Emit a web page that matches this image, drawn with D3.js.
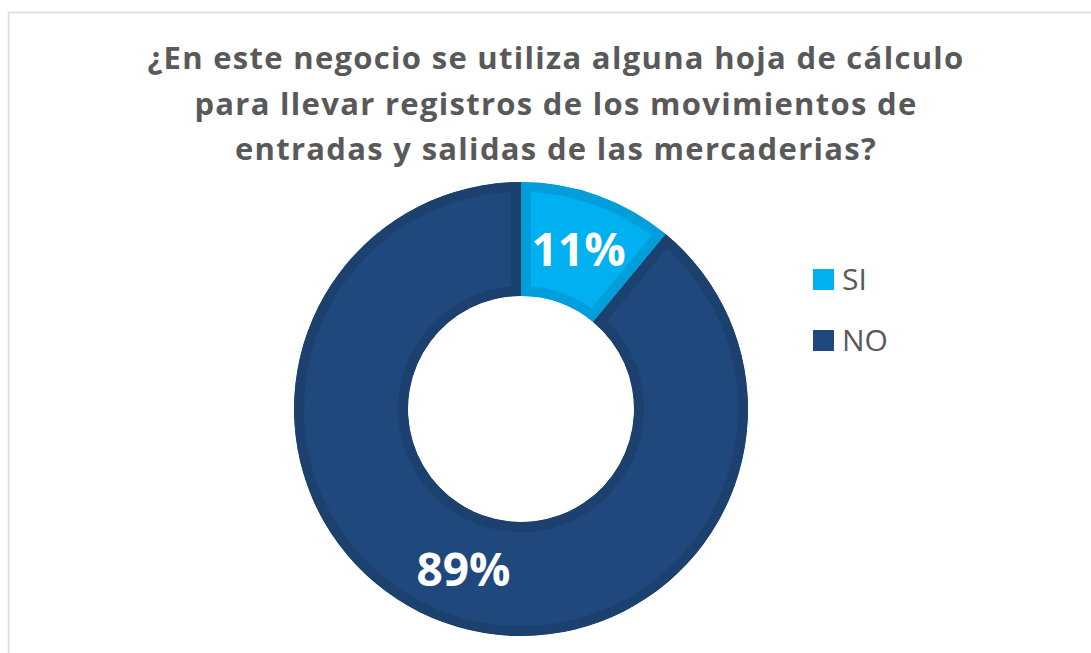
<!DOCTYPE html>
<html>
<head>
<meta charset="utf-8">
<script src="https://cdn.jsdelivr.net/npm/d3@7"></script>
<style>
  html, body { margin: 0; padding: 0; background: #fff; }
  svg { display: block; }
</style>
</head>
<body>
<script>
// Donut chart: use of spreadsheets for stock movements

const titleLines = [
  "¿En este negocio se utiliza alguna hoja de cálculo",
  "para llevar registros de los movimientos de",
  "entradas y salidas de las mercaderias?"
];
const categories = ["SI", "NO"];
const values = [11, 89];
const fills = ["#00B0F0", "#1F497D"];
const edges = ["#009FDB", "#1C416F"];

const W = 1091, H = 653;
const svg = d3.select("body").append("svg")
  .attr("width", W)
  .attr("height", H);

// chart frame
svg.append("rect")
  .attr("x", 8.5).attr("y", 12.5)
  .attr("width", W + 20).attr("height", H + 20)
  .attr("fill", "#fff")
  .attr("stroke", "#D9D9D9")
  .attr("stroke-width", 1.5);

// title
svg.append("g")
  .selectAll("text")
  .data(titleLines)
  .enter()
  .append("text")
  .attr("x", 556)
  .attr("y", (d, i) => 69 + i * 45.5)
  .attr("text-anchor", "middle")
  .attr("font-family", "'Open Sans', sans-serif")
  .attr("font-weight", "bold")
  .attr("font-size", 31)
  .attr("letter-spacing", 1.3)
  .attr("fill", "#595959")
  .text(d => d);

const cx = 521, cy = 409, rOuter = 227, rInner = 113;
const data = categories.map((c, i) => ({ name: c, value: values[i], i }));

const pie = d3.pie().value(d => d.value).sort(null);
const arc = d3.arc().innerRadius(rInner).outerRadius(rOuter);
const arcs = pie(data);

const g = svg.append("g").attr("transform", `translate(${cx},${cy})`);
const defs = svg.append("defs");

arcs.forEach((a, k) => {
  defs.append("clipPath")
    .attr("id", "clip" + k)
    .append("path")
    .attr("d", arc(a));
});

// slices with inner darker edge
g.selectAll("path.slice")
  .data(arcs)
  .enter()
  .append("path")
  .attr("class", "slice")
  .attr("d", arc)
  .attr("fill", d => fills[d.data.i])
  .attr("stroke", d => edges[d.data.i])
  .attr("stroke-width", 20)
  .attr("clip-path", (d, k) => `url(#clip${k})`);

// data labels
g.selectAll("text.lbl")
  .data(arcs)
  .enter()
  .append("text")
  .attr("class", "lbl")
  .attr("transform", d => `translate(${arc.centroid(d)})`)
  .attr("text-anchor", "middle")
  .attr("dy", "0.36em")
  .attr("font-family", "'Open Sans', sans-serif")
  .attr("font-weight", "bold")
  .attr("font-size", 46)
  .attr("fill", "#fff")
  .text(d => d.data.value + "%");

// legend
const legend = svg.append("g").attr("transform", "translate(813,269)");
const item = legend.selectAll("g")
  .data(data)
  .enter()
  .append("g")
  .attr("transform", (d, i) => `translate(0,${i * 61})`);

item.append("rect")
  .attr("width", 21).attr("height", 21)
  .attr("fill", d => fills[d.i]);

item.append("text")
  .attr("x", 29)
  .attr("y", 21)
  .attr("font-family", "'Open Sans', sans-serif")
  .attr("font-size", 30)
  .attr("fill", "#595959")
  .text(d => d.name);
</script>
</body>
</html>
